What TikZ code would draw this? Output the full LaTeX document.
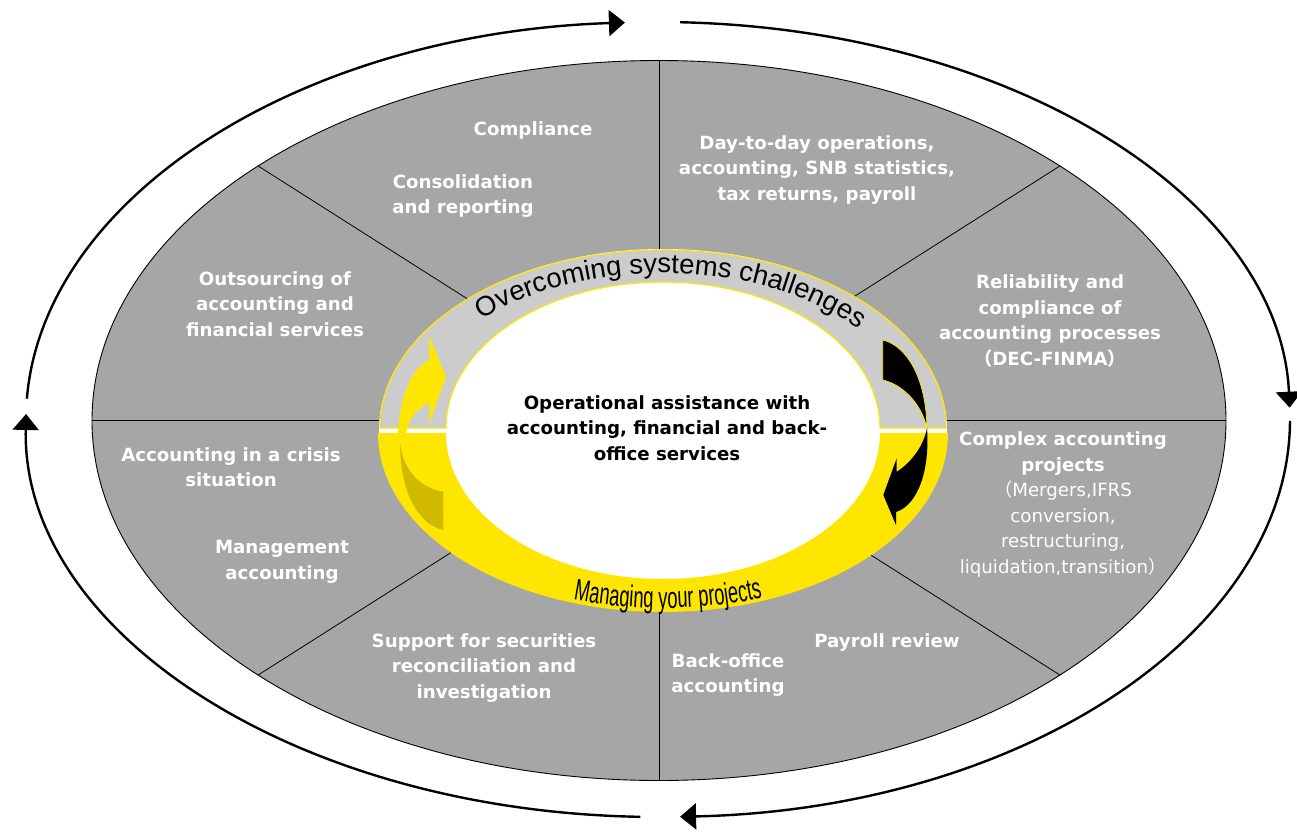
\documentclass[tikz,border=0pt]{standalone}
\usepackage{fontspec}
\usetikzlibrary{arrows.meta,decorations.text}
\newfontfamily\labelfont{DejaVu Sans}
\newfontfamily\arialfont{Liberation Sans}
\newfontfamily\narrowarial[FakeStretch=0.61]{Liberation Sans}
\newfontfamily\cjkfont{Noto Sans CJK SC}
\newcommand\ringfont{\arialfont\fontsize{27.5}{30}\selectfont}
\newcommand\bottomringfont{\narrowarial\fontsize{30}{32}\selectfont}
\definecolor{sectorgray}{HTML}{A6A6A6}
\definecolor{ringgray}{HTML}{CCCCCC}
\definecolor{eyyellow}{HTML}{FFE600}
\definecolor{darkyellow}{HTML}{D1B900}
\begin{document}
\begin{tikzpicture}[x=1pt,y=-1pt,
  sectortext/.style={text=white, align=center, inner sep=0pt, font=\labelfont\bfseries\fontsize{18.2}{25.5}\selectfont},
  centertext/.style={text=black, align=center, inner sep=0pt, font=\labelfont\bfseries\fontsize{18.2}{25.5}\selectfont},
  cycleline/.style={line width=2.4pt, -{Triangle[width=26pt,length=16pt]}},
  spoke/.style={draw=black, line width=0.8pt},
]
\useasboundingbox (0,0) rectangle (1297,832);
% outer cycle arrows
\coordinate (O) at (658,419.5);
\draw[cycleline] (O) ++(183:632 and 397.5) arc[start angle=183,end angle=267,x radius=632,y radius=397.5];
\draw[cycleline] (O) ++(272:632 and 397.5) arc[start angle=272,end angle=358.3,x radius=632,y radius=397.5];
\draw[cycleline] (O) ++(0.2:632 and 397.5) arc[start angle=0.2,end angle=88,x radius=632,y radius=397.5];
\draw[cycleline] (O) ++(91.6:632 and 397.5) arc[start angle=91.6,end angle=180.8,x radius=632,y radius=397.5];
% gray disc with sectors
\coordinate (C) at (659,420.5);
\filldraw[fill=sectorgray, draw=black, line width=0.9pt] (C) ellipse[x radius=567, y radius=360];
\foreach \a in {0,45,...,315}{
  \draw[spoke] (C) -- ++(\a:567 and 360);
}
% ring
\fill[white] (663,430) ellipse[x radius=284, y radius=181];
\filldraw[fill=ringgray, draw=eyyellow, line width=1.2pt] (663,428) ++(180:283 and 178) arc[start angle=180,end angle=360,x radius=283,y radius=178] -- ++(-66,0) arc[start angle=0,end angle=-180,x radius=217,y radius=146] -- cycle;
\fill[eyyellow] (663,433) ++(180:285 and 179) arc[start angle=180,end angle=0,x radius=285,y radius=179] -- ++(-68,0) arc[start angle=0,end angle=180,x radius=217,y radius=146] -- cycle;
% left arrows
\fill[eyyellow] (398,434) .. controls (400,395) and (412,368) .. (429.3,360) -- (429.3,336) -- (446,377) -- (429.3,423) -- (429.3,403) .. controls (418,408) and (408,418) .. (406,434) -- cycle;
\fill[darkyellow] (400,443) .. controls (400,495) and (420,525) .. (443.3,530) -- (443.3,491.7) .. controls (420,488) and (403,470) .. (400,443) -- cycle;
% right black arrow
\filldraw[fill=black, draw=eyyellow, line width=0.8pt] (882.7,340) -- (882.7,380) .. controls (900,384) and (920,400) .. (927,428) .. controls (926,375) and (905,345) .. (882.7,340) -- cycle;
\fill[black] (927,428) .. controls (930,470) and (918,505) .. (896,512) -- (896,525) -- (883.3,495) -- (896.7,458.3) -- (896.7,471.7) .. controls (912,462) and (924,445) .. (927,428) -- cycle;
% ring texts
\path[decorate, decoration={text along path, text={|\ringfont|Overcoming systems challenges}, text align=center}] (663,430) ++(224.5:255 and 157) arc[start angle=224.5,end angle=320.4,x radius=255,y radius=157];
\path[decorate, decoration={text along path, text={|\bottomringfont|Managing your projects}, text align=center}] (663,430) ++(108:300 and 178) arc[start angle=108,end angle=70,x radius=300,y radius=178];
% center text
\node[centertext] (center) at (667,428) {Operational assistance with\\accounting, financial and back-\\office services};
% sector texts
\node[sectortext] (compliance) at (533,130) {Compliance};
\node[sectortext] (consolidation) at (463,196) {Consolidation\\and reporting};
\node[sectortext] (daytoday) at (817,170) {Day-to-day operations,\\accounting, SNB statistics,\\tax returns, payroll};
\node[sectortext] (reliability) at (1050,321) {Reliability and\\compliance of\\accounting processes\\{\cjkfont （}DEC-FINMA{\cjkfont ）}};
\node[sectortext] (outsourcing) at (275,304) {Outsourcing of\\accounting and\\financial services};
\node[sectortext] (crisis) at (231,467) {Accounting in a crisis\\situation};
\node[sectortext] (management) at (282,562) {Management\\accounting};
\node[sectortext] (complex) at (1063,504.5) {Complex accounting\\projects\\\mdseries{\cjkfont （}Mergers,IFRS\\\mdseries conversion,\\\mdseries restructuring,\\\mdseries liquidation,transition{\cjkfont ）}};
\node[sectortext] (support) at (484,668) {Support for securities\\reconciliation and\\investigation};
\node[sectortext] (payroll) at (887,643) {Payroll review};
\node[sectortext] (backoffice) at (728,675) {Back-office\\accounting};
\end{tikzpicture}
\end{document}
